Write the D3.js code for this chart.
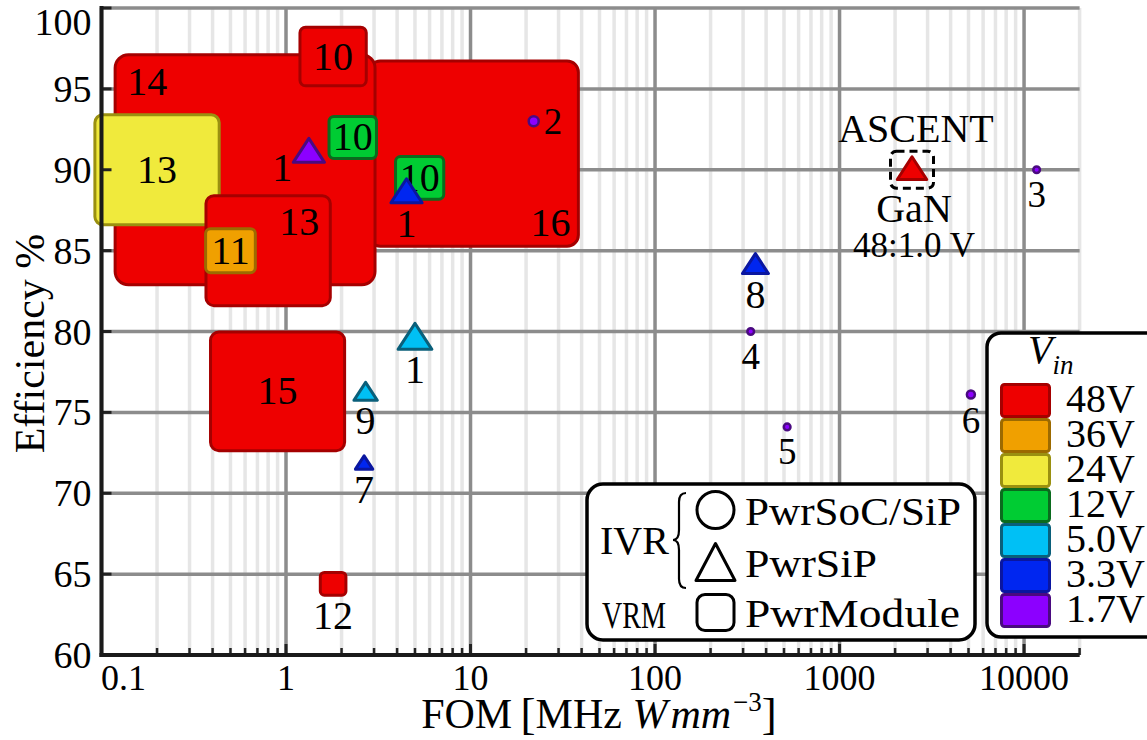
<!DOCTYPE html>
<html>
<head>
<meta charset="utf-8">
<script src="https://cdn.jsdelivr.net/npm/d3@7"></script>
<style>
  html, body { margin: 0; padding: 0; background: #fff; }
  svg { display: block; }
  svg text { font-family: 'Liberation Serif', 'DejaVu Serif', 'Noto Serif', serif; fill: #000; }
</style>
</head>
<body>
<svg id="chart" width="1147" height="740" font-family="Liberation Serif, DejaVu Serif, serif"></svg>
<script>
// ---------------- data ----------------
// Input-voltage classes (colour legend)
const vinLevels = ["48V", "36V", "24V", "12V", "5.0V", "3.3V", "1.7V"];

// VRM power modules (rounded squares), listed in drawing order
const moduleRefs  = ["16", "14", "10", "13", "13", "11", "10", "10", "15", "12"];
const moduleFom   = [10.4, 0.6, 1.8, 0.2, 0.8, 0.5, 2.3, 5.3, 0.9, 1.8];
const moduleEff   = [91.0, 90.0, 97.0, 90.0, 85.0, 85.0, 92.0, 89.5, 76.3, 64.4];
const moduleVin   = ["48V", "48V", "48V", "24V", "48V", "36V", "12V", "12V", "48V", "48V"];
const moduleSize  = [139, 172.5, 44, 82.5, 82.5, 33, 31.5, 32, 89, 17];
const moduleLabel = ["br", "tl", "c", "c", "tr", "c", "c", "c", "c", "below"];

// IVR PwrSiP (triangles)
const sipRefs  = ["1", "1", "1", "9", "7", "8"];
const sipFom   = [1.33, 4.5, 5.0, 2.7, 2.65, 350];
const sipEff   = [91.2, 88.7, 79.7, 76.3, 71.9, 84.2];
const sipVin   = ["1.7V", "3.3V", "5.0V", "5.0V", "3.3V", "3.3V"];
const sipSize  = [18, 18, 19.5, 13.5, 10, 15];
const sipLabel = ["bl", "below", "below", "below", "below", "below"];

// IVR PwrSoC/SiP (circles)
const socRefs  = ["2", "3", "4", "5", "6"];
const socFom   = [22, 11700, 330, 520, 5150];
const socEff   = [93.0, 90.0, 80.0, 74.1, 76.1];
const socVin   = ["1.7V", "1.7V", "1.7V", "1.7V", "1.7V"];
const socSize  = [7.5, 5, 5, 5, 6];
const socLabel = ["right", "below", "below", "below", "below"];

// This work
const ascentFom = 2470, ascentEff = 90.1, ascentVin = "48V", ascentSize = 17;
const ascentName = "ASCENT", ascentTech = "GaN", ascentRatio = "48:1.0 V";

// Axis ticks
const yTicks = [60, 65, 70, 75, 80, 85, 90, 95, 100];
const xMajorTicks = [0.1, 1, 10, 100, 1000, 10000];
const xTickLabels = ["0.1", "1", "10", "100", "1000", "10000"];

// ---------------- styles ----------------
const SERIF = "'Liberation Serif', 'DejaVu Serif', 'Noto Serif', serif";
const fillColor = d3.scaleOrdinal().domain(vinLevels)
  .range(["#ee0000", "#f0a000", "#f0ea3c", "#00cc33", "#00c0f5", "#0026f0", "#8c00ff"]);
const edgeColor = d3.scaleOrdinal().domain(vinLevels)
  .range(["#a50000", "#9c6a00", "#9a9010", "#0b6b1e", "#0a5f7a", "#0a16a0", "#4a0a80"]);

const svg = d3.select("#chart");
const plot = { left: 101.5, right: 1079.6, top: 8, bottom: 655 };

const x = d3.scaleLog().domain([0.1, 20000]).range([plot.left, plot.right]);
const y = d3.scaleLinear().domain([60, 100]).range([plot.bottom, plot.top]);
// marker size in pt -> px
const sizePx = d3.scaleLinear().domain([0, 3]).range([0, 4]);
const rectAspect = 1.13;
const triAspect = 1.3;

// ---------------- grid ----------------
const minorTicks = [];
for (let d = -1; d <= 4; d++) {
  for (let k = 2; k <= 9; k++) {
    const v = k * Math.pow(10, d);
    if (v <= 20000) minorTicks.push(v);
  }
}
const grid = svg.append("g");
grid.selectAll(".minor").data(minorTicks).join("line")
  .attr("x1", d => x(d)).attr("x2", d => x(d))
  .attr("y1", y(60)).attr("y2", y(100))
  .attr("stroke", "#e6e6e6").attr("stroke-width", 3.5);
grid.selectAll(".vmaj").data(xMajorTicks).join("line")
  .attr("x1", d => x(d)).attr("x2", d => x(d))
  .attr("y1", y(60)).attr("y2", y(100))
  .attr("stroke", "#8c8c8c").attr("stroke-width", 3.5);
grid.selectAll(".hmaj").data(yTicks).join("line")
  .attr("x1", plot.left).attr("x2", plot.right)
  .attr("y1", d => y(d)).attr("y2", d => y(d))
  .attr("stroke", "#8c8c8c").attr("stroke-width", 3.5);

// ---------------- markers ----------------
const marks = svg.append("g");

function labelPlacement(pos, cx, cy, w, h) {
  switch (pos) {
    case "tl": return { x: cx - w / 2 + 12, y: cy - h / 2 + 40, a: "start" };
    case "tr": return { x: cx + w / 2 - 11, y: cy - h / 2 + 39, a: "end" };
    case "br": return { x: cx + w / 2 - 8, y: cy + h / 2 - 10, a: "end" };
    case "below": return { x: cx, y: cy + h / 2 + 34, a: "middle" };
    case "right": return { x: cx + w / 2 + 5, y: cy + 13, a: "start" };
    case "bl": return { x: cx - w / 2 - 1, y: cy + h / 2 + 19, a: "end" };
    default: return { x: cx, y: cy + 13, a: "middle" };
  }
}

function drawLabel(text, p, size) {
  marks.append("text")
    .attr("x", p.x).attr("y", p.y)
    .attr("text-anchor", p.a)
    .attr("font-family", SERIF)
    .attr("font-size", size)
    .text(text);
}

function triPath(cx, cy, w, h) {
  return `M${cx},${cy - h / 2} L${cx + w / 2},${cy + h / 2} L${cx - w / 2},${cy + h / 2} Z`;
}

// modules: rect + label drawn together so later boxes cover earlier labels
moduleRefs.forEach((ref, i) => {
  const cx = x(moduleFom[i]), cy = y(moduleEff[i]);
  const h = sizePx(moduleSize[i]), w = h * rectAspect;
  marks.append("rect")
    .attr("x", cx - w / 2).attr("y", cy - h / 2)
    .attr("width", w).attr("height", h)
    .attr("rx", 3 + h * 0.045)
    .attr("fill", fillColor(moduleVin[i]))
    .attr("stroke", edgeColor(moduleVin[i]))
    .attr("stroke-width", 3);
  drawLabel(ref, labelPlacement(moduleLabel[i], cx, cy, w, h), 40);
});

// PwrSiP triangles
sipRefs.forEach((ref, i) => {
  const cx = x(sipFom[i]), cy = y(sipEff[i]);
  const h = sizePx(sipSize[i]), w = h * triAspect;
  marks.append("path")
    .attr("d", triPath(cx, cy, w, h))
    .attr("fill", fillColor(sipVin[i]))
    .attr("stroke", edgeColor(sipVin[i]))
    .attr("stroke-width", 3)
    .attr("stroke-linejoin", "round");
  drawLabel(ref, labelPlacement(sipLabel[i], cx, cy, w, h), 40);
});

// PwrSoC/SiP circles
socRefs.forEach((ref, i) => {
  const cx = x(socFom[i]), cy = y(socEff[i]);
  const d = sizePx(socSize[i]);
  marks.append("circle")
    .attr("cx", cx).attr("cy", cy).attr("r", d / 2)
    .attr("fill", fillColor(socVin[i]))
    .attr("stroke", edgeColor(socVin[i]))
    .attr("stroke-width", 2.5);
  drawLabel(ref, labelPlacement(socLabel[i], cx, cy, d, d), 37);
});

// ASCENT point with dashed highlight box
{
  const cx = x(ascentFom), cy = y(ascentEff);
  const h = sizePx(ascentSize), w = h * triAspect;
  marks.append("rect")
    .attr("x", cx - 21.5).attr("y", cy - 17)
    .attr("width", 43).attr("height", 37).attr("rx", 6)
    .attr("fill", "none").attr("stroke", "#000")
    .attr("stroke-width", 3).attr("stroke-dasharray", "8,5");
  marks.append("path")
    .attr("d", triPath(cx, cy, w, h))
    .attr("fill", fillColor(ascentVin))
    .attr("stroke", edgeColor(ascentVin))
    .attr("stroke-width", 3)
    .attr("stroke-linejoin", "round");
  drawLabel(ascentName, { x: cx + 4, y: cy - 26, a: "middle" }, 40);
  drawLabel(ascentTech, { x: cx + 2, y: cy + 54, a: "middle" }, 40);
  drawLabel(ascentRatio, { x: cx + 2, y: cy + 89, a: "middle" }, 35);
}

// ---------------- axes ----------------
const axes = svg.append("g");
axes.selectAll(".yt").data(yTicks).join("line")
  .attr("x1", plot.left).attr("x2", plot.left + 10)
  .attr("y1", d => y(d)).attr("y2", d => y(d))
  .attr("stroke", "#222").attr("stroke-width", 3);
axes.selectAll(".ytl").data(yTicks).join("text")
  .attr("x", plot.left - 10)
  .attr("y", d => Math.max(y(d), 22) + 13)
  .attr("text-anchor", "end")
  .attr("font-family", SERIF)
  .attr("font-size", 38)
  .text(d => d);
axes.selectAll(".xmin").data(minorTicks).join("line")
  .attr("x1", d => x(d)).attr("x2", d => x(d))
  .attr("y1", plot.bottom).attr("y2", plot.bottom - 7)
  .attr("stroke", "#222").attr("stroke-width", 2.5);
axes.selectAll(".xmaj").data(xMajorTicks).join("line")
  .attr("x1", d => x(d)).attr("x2", d => x(d))
  .attr("y1", plot.bottom).attr("y2", plot.bottom - 11)
  .attr("stroke", "#222").attr("stroke-width", 3);
axes.selectAll(".xtl").data(xMajorTicks).join("text")
  .attr("x", d => Math.max(x(d), plot.left + 22))
  .attr("y", 690)
  .attr("text-anchor", "middle")
  .attr("font-family", SERIF)
  .attr("font-size", 36)
  .text((d, i) => xTickLabels[i]);
axes.append("line")
  .attr("x1", plot.left).attr("x2", plot.left)
  .attr("y1", plot.bottom + 2).attr("y2", plot.top - 2)
  .attr("stroke", "#1a1a1a").attr("stroke-width", 4);
axes.append("line")
  .attr("x1", plot.left - 2).attr("x2", plot.right)
  .attr("y1", plot.bottom).attr("y2", plot.bottom)
  .attr("stroke", "#1a1a1a").attr("stroke-width", 4);

// axis titles
const xt = svg.append("text")
  .attr("x", 599).attr("y", 728)
  .attr("text-anchor", "middle")
  .attr("font-family", SERIF)
  .attr("font-size", 42);
xt.append("tspan").text("FOM\u2009");
xt.append("tspan").attr("font-size", 45).attr("dy", 1).text("[");
xt.append("tspan").attr("dy", -1).text("MHz ");
xt.append("tspan").attr("font-style", "italic").text("W");
xt.append("tspan").attr("font-style", "italic").attr("dx", 3).text("mm");
xt.append("tspan").attr("font-size", 27).attr("dy", -17).attr("dx", 2).text("\u22123");
xt.append("tspan").attr("font-size", 45).attr("dy", 18).text("]");

svg.append("text")
  .attr("transform", `translate(44, ${(y(60) + y(100)) / 2 + 12}) rotate(-90)`)
  .attr("text-anchor", "middle")
  .attr("font-family", SERIF)
  .attr("font-size", 42)
  .text("Efficiency %");

// ---------------- shape legend ----------------
const lg = svg.append("g").attr("font-family", SERIF);
lg.append("rect")
  .attr("x", 587).attr("y", 484).attr("width", 388).attr("height", 156)
  .attr("rx", 16).attr("fill", "#fff").attr("stroke", "#000").attr("stroke-width", 3.5);
lg.append("text").attr("x", 600).attr("y", 554).attr("font-size", 40).text("IVR");
lg.append("path")
  .attr("d", "M686,493 Q679,493 679,502 L679,530 Q679,540 673,540 Q679,540 679,550 L679,579 Q679,588 686,588")
  .attr("fill", "none").attr("stroke", "#000").attr("stroke-width", 2.2);
lg.append("circle").attr("cx", 715.5).attr("cy", 510).attr("r", 18.5)
  .attr("fill", "#fff").attr("stroke", "#000").attr("stroke-width", 3);
lg.append("path").attr("d", triPath(715.5, 562, 39, 37))
  .attr("fill", "#fff").attr("stroke", "#000").attr("stroke-width", 3)
  .attr("stroke-linejoin", "round");
lg.append("rect").attr("x", 697).attr("y", 594.5).attr("width", 37).attr("height", 36)
  .attr("rx", 8).attr("fill", "#fff").attr("stroke", "#000").attr("stroke-width", 3);
lg.append("text").attr("x", 602).attr("y", 628).attr("font-size", 38)
  .attr("textLength", 64).attr("lengthAdjust", "spacingAndGlyphs").text("VRM");
const shapeNames = ["PwrSoC/SiP", "PwrSiP", "PwrModule"];
const shapeBaselines = [525, 577, 627];
const shapeWidths = [216, 132, 215];
lg.selectAll(".sn").data(shapeNames).join("text")
  .attr("x", 745).attr("y", (d, i) => shapeBaselines[i])
  .attr("font-size", 41)
  .attr("textLength", (d, i) => shapeWidths[i])
  .attr("lengthAdjust", "spacingAndGlyphs")
  .text(d => d);

// ---------------- Vin legend ----------------
const vl = svg.append("g").attr("font-family", SERIF);
vl.append("rect")
  .attr("x", 987).attr("y", 333).attr("width", 200).attr("height", 304)
  .attr("rx", 14).attr("fill", "#fff").attr("stroke", "#000").attr("stroke-width", 3.5);
const vt = vl.append("text").attr("x", 1028).attr("y", 363).attr("font-size", 40);
vt.append("tspan").attr("font-style", "italic").text("V");
vt.append("tspan").attr("font-style", "italic").attr("font-size", 27).attr("dy", 11).text("in");
const rowH = 35, rowTop = 383;
vl.selectAll(".sw").data(vinLevels).join("rect")
  .attr("x", 1001.5).attr("y", (d, i) => rowTop + 1.5 + i * rowH)
  .attr("width", 48).attr("height", rowH - 3).attr("rx", 3)
  .attr("fill", d => fillColor(d)).attr("stroke", d => edgeColor(d)).attr("stroke-width", 3);
vl.selectAll(".swl").data(vinLevels).join("text")
  .attr("x", 1066).attr("y", (d, i) => rowTop + 29 + i * rowH)
  .attr("font-size", 40).text(d => d);
</script>
</body>
</html>
